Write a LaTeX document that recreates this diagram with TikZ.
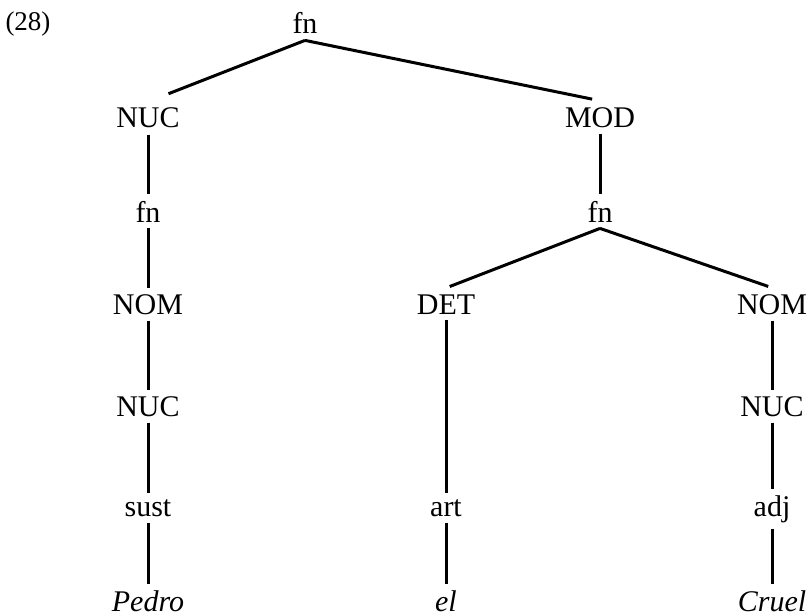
\documentclass[tikz,border=0pt]{standalone}
\usepackage{fontspec}
\setmainfont{Liberation Serif}

\tikzset{
    cat/.style={font=\fontsize{15}{18}\selectfont, inner sep=3pt, anchor=base},
    branch/.style={line width=1.5pt}
}

\begin{document}
\begin{tikzpicture}[x=0.5pt, y=-0.5pt]
        \useasboundingbox (0,0) rectangle (809,615);

        % Example number
        \node[cat, font=\fontsize{13.5}{16}\selectfont] (num) at (28,31) {(28)};

        % Root and its two daughters
        \node[cat] (root) at (305,34) {fn};
        \node[cat] (nucA) at (148,128) {NUC};
        \node[cat] (modA) at (600,127) {MOD};
        \draw[branch, shorten >=11pt] (root.south) -- (nucA.north);
        \draw[branch, shorten >=4pt] (root.south) -- (modA.north);

        % Left column
        \foreach \y/\name/\txt in {222/fnA/fn, 314/nomA/NOM, 416/nucB/NUC, 516/sust/sust, 611/pedro/\textit{Pedro}} {
            \node[cat] (\name) at (148,\y) {\txt};
        }

        % Second fn under MOD
        \node[cat] (fnB) at (600,222) {fn};

        % Middle column
        \foreach \y/\name/\txt in {314/detA/DET, 516/art/art, 611/el/\textit{el}} {
            \node[cat] (\name) at (446,\y) {\txt};
        }

        % Right column
        \foreach \y/\name/\txt in {314/nomB/NOM, 416/nucC/NUC, 516/adj/adj, 611/cruel/\textit{Cruel}} {
            \node[cat] (\name) at (772,\y) {\txt};
        }

        % Branches of the second fn
        \draw[branch, shorten >=2pt] (fnB.south) -- (detA.north);
        \draw[branch, shorten >=2pt] (fnB.south) -- (nomB.north);

        % Vertical branches
        \foreach \a/\b in {nucA/fnA, fnA/nomA, nomA/nucB, nucB/sust, sust/pedro,
                           modA/fnB, detA/art, art/el,
                           nomB/nucC, nucC/adj, adj/cruel} {
            \draw[branch] (\a.south) -- (\b.north);
        }
    \end{tikzpicture}
\end{document}
